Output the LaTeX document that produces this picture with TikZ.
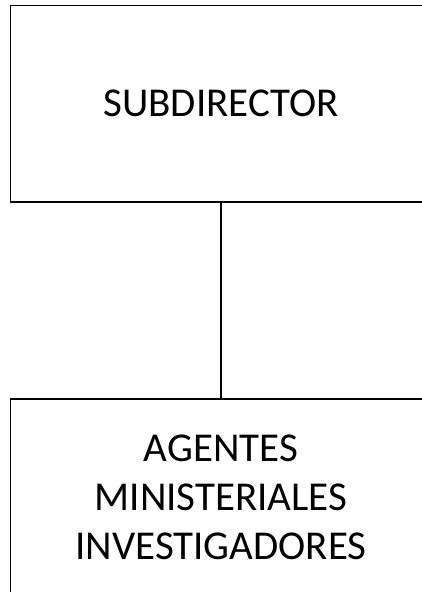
\documentclass[tikz,border=0pt]{standalone}
\usepackage{fontspec}
\setmainfont{Carlito}
\begin{document}
\begin{tikzpicture}[x=1pt,y=1pt,
  orgbox/.style={draw=black,line width=1.4pt,minimum width=421pt,inner sep=0pt,align=center,
    font=\fontsize{41}{49}\selectfont}]
\useasboundingbox (0,0) rectangle (422,-592);
\clip (0,0) rectangle (422,-592);
\node[orgbox,minimum height=196.5pt] (sub) at (221,-103.75) {SUBDIRECTOR};
\node[orgbox,minimum height=196pt] (agt) at (221,-497) {AGENTES\\MINISTERIALES\\INVESTIGADORES};
\draw[line width=1.2pt] (sub.south) -- (agt.north);
\end{tikzpicture}
\end{document}
